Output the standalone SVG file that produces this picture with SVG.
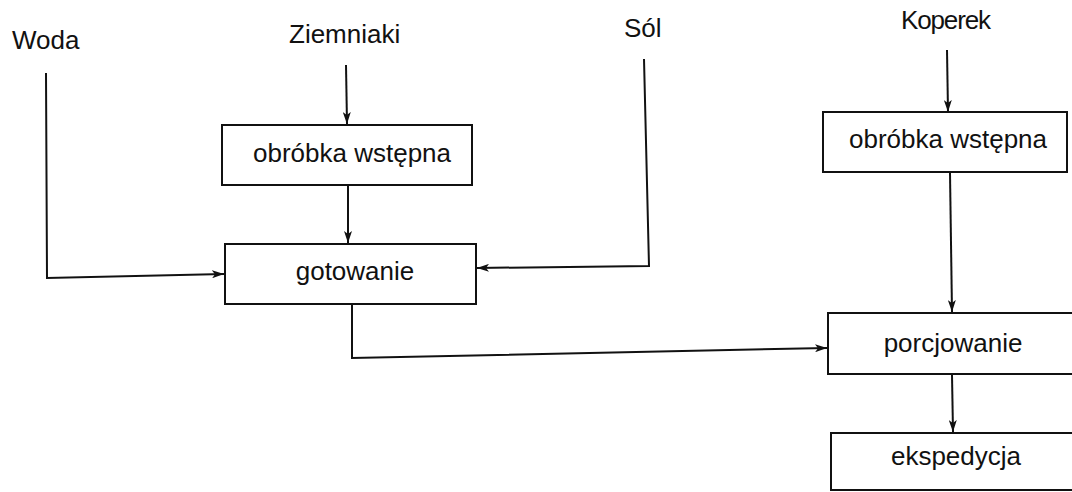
<svg xmlns="http://www.w3.org/2000/svg" width="1072" height="492" viewBox="0 0 1072 492">
<defs>
<marker id="arr" viewBox="0 0 12 8" refX="12" refY="4" markerWidth="12" markerHeight="8" markerUnits="userSpaceOnUse" orient="auto">
<path d="M0,0 L12,4 L0,8 L3,4 Z" fill="#111"/>
</marker>
<style>
.box{fill:#fff;stroke:#111;stroke-width:2}
.t{font-family:"Liberation Sans",Arial,sans-serif;font-size:26px;fill:#111}
.c{fill:none;stroke:#111;stroke-width:2}
</style>
</defs>
<rect width="1072" height="492" fill="#fff"/>
<g id="labels">
<text class="t" x="12" y="49">Woda</text>
<text class="t" x="289" y="43">Ziemniaki</text>
<text class="t" x="624" y="37">Sól</text>
<text class="t" x="946" y="29" text-anchor="middle" textLength="90">Koperek</text>
</g>
<g id="connectors">
<path class="c" d="M46,73 L47,278 L224,274" marker-end="url(#arr)"/>
<path class="c" d="M346,65 L347,124" marker-end="url(#arr)"/>
<path class="c" d="M348,186 L348,243" marker-end="url(#arr)"/>
<path class="c" d="M644,59 L649,266 L477,268" marker-end="url(#arr)"/>
<path class="c" d="M947,50 L948,112" marker-end="url(#arr)"/>
<path class="c" d="M950,173 L952,312" marker-end="url(#arr)"/>
<path class="c" d="M352,305 L352,358 L827,348" marker-end="url(#arr)"/>
<path class="c" d="M952,375 L953,432" marker-end="url(#arr)"/>
</g>
<g id="node-obrobka1">
<rect class="box" x="222" y="125" width="250" height="60"/>
<text class="t" x="352" y="162" text-anchor="middle">obróbka wstępna</text>
</g>
<g id="node-gotowanie">
<rect class="box" x="225" y="244" width="251" height="60"/>
<text class="t" x="355" y="280" text-anchor="middle">gotowanie</text>
</g>
<g id="node-obrobka2">
<rect class="box" x="823" y="112" width="244" height="60"/>
<text class="t" x="948" y="148" text-anchor="middle">obróbka wstępna</text>
</g>
<g id="node-porcjowanie">
<rect class="box" x="828" y="313" width="260" height="61"/>
<text class="t" x="953" y="352" text-anchor="middle">porcjowanie</text>
</g>
<g id="node-ekspedycja">
<rect class="box" x="831" y="433" width="260" height="57"/>
<text class="t" x="956" y="465" text-anchor="middle">ekspedycja</text>
</g>
</svg>
